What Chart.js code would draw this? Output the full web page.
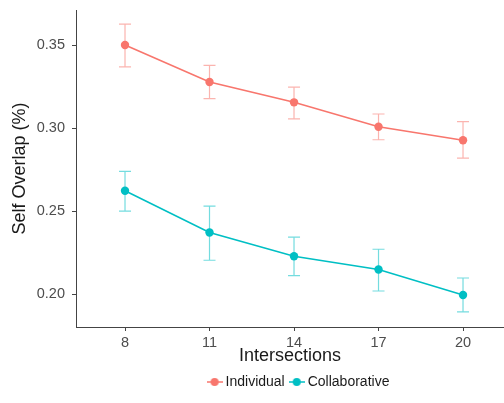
<!DOCTYPE html>
<html><head><meta charset="utf-8">
<script src="https://cdn.jsdelivr.net/npm/chart.js@4/dist/chart.umd.min.js"></script>
<style>html,body{margin:0;padding:0;background:#fff;overflow:hidden}#wrap{width:504px;height:403px;position:relative}</style>
</head><body><div id="wrap"><canvas id="c" width="504" height="403"></canvas></div>
<script>
const intersections = [8, 11, 14, 17, 20];
const individualMean = [0.3500, 0.3277, 0.3155, 0.3008, 0.2927];
const individualLow  = [0.3368, 0.3177, 0.3055, 0.2930, 0.2819];
const individualHigh = [0.3626, 0.3378, 0.3247, 0.3085, 0.3039];
const collabMean = [0.2623, 0.2372, 0.2229, 0.2149, 0.1996];
const collabLow  = [0.2500, 0.2205, 0.2113, 0.2020, 0.1894];
const collabHigh = [0.2740, 0.2530, 0.2344, 0.2271, 0.2098];
const yTicks = [0.20, 0.25, 0.30, 0.35];
const seriesNames = ['Individual', 'Collaborative'];

const RED = '#F8766D', CYAN = '#00BFC4';
const FONT = 'Liberation Sans, Arial, sans-serif';

function legendIcon(color) {
  const c = document.createElement('canvas');
  c.width = 16; c.height = 10;
  const g = c.getContext('2d');
  g.strokeStyle = color; g.lineWidth = 1.5;
  g.beginPath(); g.moveTo(0, 5); g.lineTo(16, 5); g.stroke();
  g.fillStyle = color;
  g.beginPath(); g.arc(8, 5, 4, 0, Math.PI * 2); g.fill();
  return c;
}

const errorBars = {
  id: 'errorBars',
  beforeDatasetsDraw(chart) {
    const {ctx, scales: {x, y}} = chart;
    ctx.save();
    chart.data.datasets.forEach(ds => {
      ctx.strokeStyle = ds.errColor;
      ctx.lineWidth = 1.2;
      ds.data.forEach((p, i) => {
        const px = x.getPixelForValue(p.x);
        const yl = y.getPixelForValue(ds.errLow[i]);
        const yh = y.getPixelForValue(ds.errHigh[i]);
        ctx.beginPath();
        ctx.moveTo(px, yl); ctx.lineTo(px, yh);
        ctx.moveTo(px - 6, yl); ctx.lineTo(px + 6, yl);
        ctx.moveTo(px - 6, yh); ctx.lineTo(px + 6, yh);
        ctx.stroke();
      });
    });
    ctx.restore();
  }
};

const legendShift = {
  id: 'legendShift',
  afterLayout(chart) {
    if (chart.legend) { chart.legend.left += 10; chart.legend.right += 10; }
  }
};

function mk(name, mean, low, high, color, err) {
  return {
    label: name,
    data: intersections.map((v, i) => ({x: v, y: mean[i]})),
    errLow: low, errHigh: high, errColor: err,
    borderColor: color, backgroundColor: color,
    borderWidth: 1.6, pointRadius: 4.2, pointBorderWidth: 0,
    pointBackgroundColor: color, tension: 0,
    icon: legendIcon(color)
  };
}

new Chart(document.getElementById('c'), {
  type: 'line',
  data: {
    datasets: [
      mk(seriesNames[0], individualMean, individualLow, individualHigh, RED, 'rgba(248,118,109,0.55)'),
      mk(seriesNames[1], collabMean, collabLow, collabHigh, CYAN, 'rgba(0,191,196,0.55)')
    ]
  },
  plugins: [errorBars, legendShift],
  options: {
    responsive: false, animation: false, devicePixelRatio: 1,
    layout: {autoPadding: false, padding: {top: 10, right: 0, bottom: 4, left: 0}},
    plugins: {
      tooltip: {enabled: false},
      legend: {
        position: 'bottom', fullSize: false,
        labels: {
          usePointStyle: true, pointStyleWidth: 8, padding: 8,
          color: '#1a1a1a', font: {family: FONT, size: 14},
          generateLabels(chart) {
            return chart.data.datasets.map((ds, i) => ({
              text: ds.label, pointStyle: ds.icon, fillStyle: ds.borderColor,
              strokeStyle: ds.borderColor, lineWidth: 0, datasetIndex: i, fontColor: '#1a1a1a'
            }));
          }
        }
      }
    },
    scales: {
      x: {
        type: 'linear', min: 6.26, max: 21.455,
        afterBuildTicks(s) { s.ticks = intersections.map(v => ({value: v})); },
        afterFit(s) { s.height = 40; s.paddingLeft = 0; s.paddingRight = 0; },
        grid: {drawOnChartArea: false, drawTicks: true, tickLength: 4, color: '#444'},
        border: {display: true, color: '#444', width: 1},
        ticks: {color: '#4d4d4d', font: {family: FONT, size: 14.5}, padding: 3, maxRotation: 0,
                callback: v => String(v)},
        title: {display: true, text: 'Intersections', color: '#1a1a1a',
                font: {family: FONT, size: 18}, padding: {top: 0, bottom: 0}}
      },
      y: {
        type: 'linear', min: 0.18033, max: 0.37106,
        afterBuildTicks(s) { s.ticks = yTicks.map(v => ({value: v})); },
        afterFit(s) { s.width = 76; s.paddingTop = 0; s.paddingBottom = 0; },
        grid: {drawOnChartArea: false, drawTicks: true, tickLength: 4, color: '#444'},
        border: {display: true, color: '#444', width: 1},
        ticks: {color: '#4d4d4d', font: {family: FONT, size: 14.5}, padding: 7,
                callback: v => v.toFixed(2)},
        title: {display: true, text: 'Self Overlap (%)', color: '#1a1a1a',
                font: {family: FONT, size: 18}, padding: {top: 9, bottom: 0}}
      }
    }
  }
});
</script></body></html>
